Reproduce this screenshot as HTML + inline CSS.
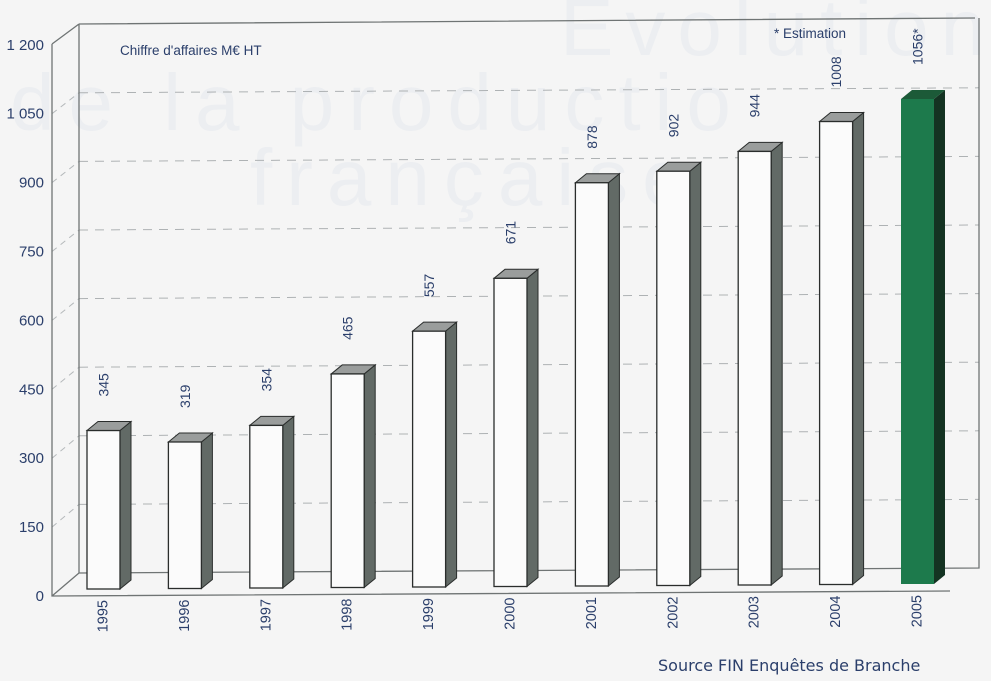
<!DOCTYPE html>
<html><head><meta charset="utf-8"><style>
html,body{margin:0;padding:0;background:#f5f5f5;}
svg{display:block;font-family:"Liberation Sans",sans-serif;}
</style></head><body>
<svg id="s" width="991" height="681" viewBox="0 0 991 681" xmlns="http://www.w3.org/2000/svg">
<rect width="991" height="681" fill="#f5f5f5"/>
<g fill="#eceef1" font-size="80" font-family="Liberation Sans,sans-serif" font-weight="300">
<text x="560" y="55" letter-spacing="12">Evolution</text>
<text x="10" y="130" letter-spacing="14">de la productio</text>
<text x="250" y="205" letter-spacing="14">française</text>
</g>
<g id="grid"></g>
<path d="M79,24 L975,18 M79,24 L79,573 L979,568 L979,18 M52,44 L79,24 M52,44 L52,596 L950,591 M52,596 L79,573" fill="none" stroke="#6f7474" stroke-width="1.3"/>
<g id="bars"></g>
<g fill="#2b3f6b" font-size="15" text-anchor="end" id="yl"></g>
<text x="120" y="55" font-size="13.5" fill="#2b3f6b">Chiffre d'affaires M€ HT</text>
<text x="774" y="38" font-size="13.5" fill="#2b3f6b">* Estimation</text>
<text x="658" y="671" font-size="16" fill="#2b3f6b" font-family="DejaVu Sans,sans-serif">Source FIN Enquêtes de Branche</text>
</svg>
<script>
(function(){
var NS="http://www.w3.org/2000/svg";
function el(p,t,a,txt){var e=document.createElementNS(NS,t);for(var k in a)e.setAttribute(k,a[k]);if(txt!=null)e.textContent=txt;p.appendChild(e);return e;}
var g=document.getElementById('grid'),yl=document.getElementById('yl'),b=document.getElementById('bars');
var labs=["0","150","300","450","600","750","900","1 050","1 200"];
for(var i=0;i<=8;i++){
 var yf=596-i*68.9, yb=573-i*68.6;
 el(yl,'text',{x:44,y:yf+5},labs[i]);
 if(i>0&&i<8){
  el(g,'line',{x1:52,y1:yf,x2:79,y2:yb,stroke:'#b5b9bb','stroke-dasharray':'6,5'});
  el(g,'line',{x1:79,y1:yb,x2:979,y2:yb-5,stroke:'#aeb2b4','stroke-dasharray':'9,7'});
 }
}
var vals=[345,319,354,465,557,671,878,902,944,1008,1056];
for(var i=0;i<11;i++){
 var x=87+i*81.4, bot=589-i*0.5, tp=bot-vals[i]*0.4593, w=33, dx=11, dy=9;
 var green=i==10;
 el(b,'polygon',{points:(x+w)+','+tp+' '+(x+w+dx)+','+(tp-dy)+' '+(x+w+dx)+','+(bot-dy)+' '+(x+w)+','+bot,fill:green?'#143322':'#626a66',stroke:green?'none':'#2a2d2c','stroke-width':1});
 el(b,'polygon',{points:x+','+tp+' '+(x+dx)+','+(tp-dy)+' '+(x+w+dx)+','+(tp-dy)+' '+(x+w)+','+tp,fill:green?'#1c5a38':'#9a9d9c',stroke:green?'none':'#2a2d2c','stroke-width':1});
 el(b,'rect',{x:x,y:tp,width:w,height:bot-tp,fill:green?'#1d7a4c':'#fbfbfb',stroke:green?'none':'#2a2d2c','stroke-width':1.3});
 var cx=x+w/2+5;
 el(b,'text',{x:0,y:0,transform:'translate('+cx+','+(tp-34)+') rotate(-90)','font-size':14,fill:'#2b3f6b'},vals[i]+(green?'*':''));
 el(b,'text',{x:0,y:0,transform:'translate('+(cx-1)+','+(bot+11)+') rotate(-90)','font-size':14.5,fill:'#2b3f6b','text-anchor':'end'},1995+i);
}
})();
</script>
</body></html>
